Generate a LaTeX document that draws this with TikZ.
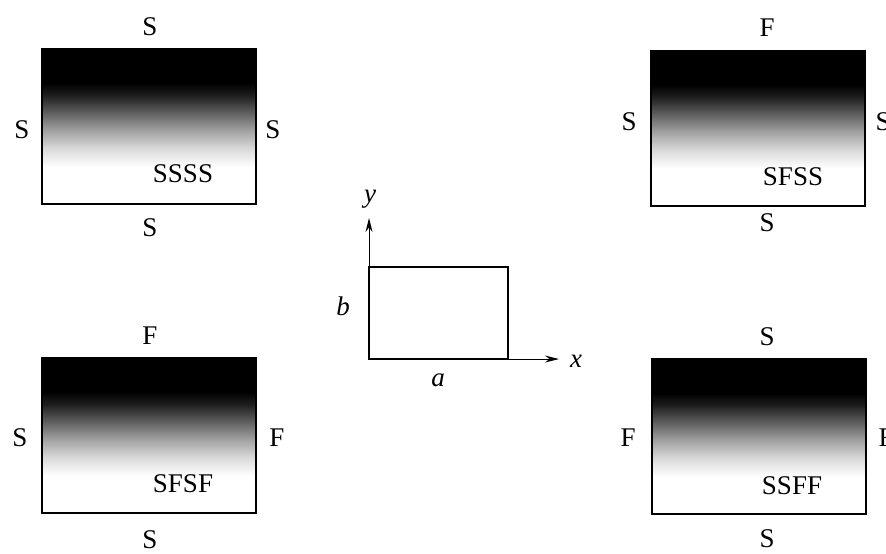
\documentclass[tikz,border=0pt]{standalone}
\usepackage{fontspec}
\setmainfont{Liberation Serif}
\usetikzlibrary{arrows.meta}

% shading of the plates, dark on top
\pgfdeclareverticalshading{plate}{100bp}{color(0bp)=(white); color(37bp)=(white);
  color(43bp)=(black!15); color(49bp)=(black!38); color(55bp)=(black!65);
  color(60bp)=(black!88); color(64bp)=(black); color(100bp)=(black)}

\tikzset{
  platebox/.style={draw, line width=1pt, shading=plate, inner sep=0pt,
    minimum width=107pt, minimum height=77.5pt},
  lbl/.style={inner sep=0pt, font=\fontsize{13.5}{15}\selectfont},
  axis/.style={line width=0.5pt, -{Stealth[length=7pt,width=3.5pt]}}
}

\begin{document}
\begin{tikzpicture}[x=0.5pt,y=-0.5pt]
    \path[fill=white] (0,0) rectangle (886,553);
    \useasboundingbox (0,0) rectangle (886,553);
    % Placas
    \node[platebox] (ssss) at (149,126.5) {};
    \node[platebox] (sfss) at (758,128) {};
    \node[platebox] (sfsf) at (149,435.5) {};
    \node[platebox] (ssff) at (758.5,436.5) {};
    % SSSS
    \node[lbl] (ssss-t) at (150,27) {S};
    \node[lbl] (ssss-l) at (22,130) {S};
    \node[lbl] (ssss-r) at (273,130) {S};
    \node[lbl] (ssss-b) at (150,228) {S};
    \node[lbl] (ssss-n) at (183,174) {SSSS};
    % SFSS
    \node[lbl] (sfss-t) at (767,28) {F};
    \node[lbl] (sfss-l) at (629,122) {S};
    \node[lbl] (sfss-r) at (883,122) {S};
    \node[lbl] (sfss-b) at (767,223) {S};
    \node[lbl] (sfss-n) at (793,177) {SFSS};
    % SFSF
    \node[lbl] (sfsf-t) at (150,336) {F};
    \node[lbl] (sfsf-l) at (20,438) {S};
    \node[lbl] (sfsf-r) at (277,438) {F};
    \node[lbl] (sfsf-b) at (150,540) {S};
    \node[lbl] (sfsf-n) at (183,484) {SFSF};
    % SSFF
    \node[lbl] (ssff-t) at (767,337) {S};
    \node[lbl] (ssff-l) at (628,438) {F};
    \node[lbl] (ssff-r) at (886,438) {F};
    \node[lbl] (ssff-b) at (767,539) {S};
    \node[lbl] (ssff-n) at (792,486) {SSFF};
    % Eixos e placa a x b
    \coordinate (o) at (369,359);
    \coordinate (xend) at (559,359);
    \coordinate (yend) at (369,218);
    \draw[axis] (o) -- (xend);
    \draw[axis] (o) -- (yend);
    \draw[line width=0.8pt] (o) rectangle (508,267);
    \node[lbl] (xl) at (576,361) {\textit{x}};
    \node[lbl] (yl) at (370,199) {\textit{y}};
    \node[lbl] (bl) at (343,306) {\textit{b}};
    \node[lbl] (al) at (438,380) {\textit{a}};
\end{tikzpicture}
\end{document}
